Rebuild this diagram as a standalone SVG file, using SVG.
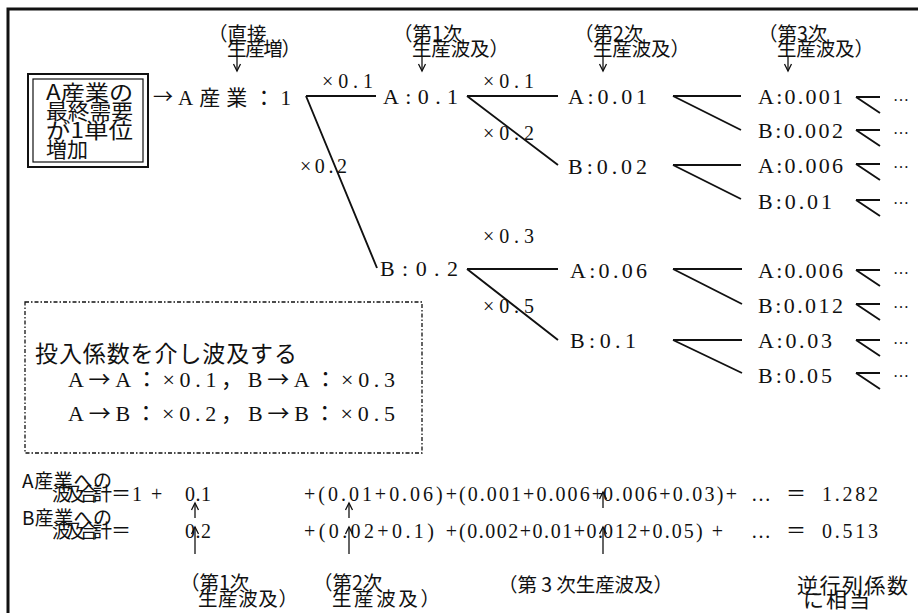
<svg xmlns="http://www.w3.org/2000/svg" width="918" height="613" viewBox="0 0 918 613">
<defs>
<marker id="ah" markerWidth="10" markerHeight="10" refX="8" refY="5" orient="auto" markerUnits="userSpaceOnUse"><path d="M1,1.5 L8,5 L1,8.5" fill="none" stroke="#111" stroke-width="1.3"/></marker>
</defs>
<style>
.s{font-family:"Liberation Serif","Noto Sans CJK JP",serif;fill:#111}
.j{font-family:"Noto Sans CJK JP",sans-serif;fill:#111}
.ln{stroke:#111;stroke-width:1.9;fill:none}
.ar{stroke:#111;stroke-width:1.3;fill:none;marker-end:url(#ah)}
.n{font-size:22px}
.m{font-size:20px}
.h{font-size:19.5px}
.f{font-size:20px}
.d{font-size:16px}
</style>
<rect width="918" height="613" fill="#fff"/>
<path d="M8,613 V9 H918" fill="none" stroke="#111" stroke-width="3"/>

<g id="headers">
<text class="j h" x="208" y="41">（直接</text>
<text class="j h" x="227" y="56" textLength="74" lengthAdjust="spacing">生産増）</text>
<text class="j h" x="393" y="41">（第1次</text>
<text class="j h" x="412" y="56" textLength="97" lengthAdjust="spacing">生産波及）</text>
<text class="j h" x="574" y="41">（第2次</text>
<text class="j h" x="593" y="56" textLength="97" lengthAdjust="spacing">生産波及）</text>
<text class="j h" x="758" y="41">（第3次</text>
<text class="j h" x="777" y="56" textLength="97" lengthAdjust="spacing">生産波及）</text>
</g>

<g id="start-box">
<rect x="28" y="74" width="120" height="93" fill="none" stroke="#111" stroke-width="2"/>
<rect x="33" y="79" width="110" height="83" fill="none" stroke="#111" stroke-width="1.2"/>
<text class="j" font-size="21" x="46" y="100" textLength="87" lengthAdjust="spacingAndGlyphs">A産業の</text>
<text class="j" font-size="21" x="46" y="119" textLength="87" lengthAdjust="spacingAndGlyphs">最終需要</text>
<text class="j" font-size="21" x="46" y="138" textLength="87" lengthAdjust="spacingAndGlyphs">が1単位</text>
<text class="j" font-size="21" x="46" y="157" textLength="42" lengthAdjust="spacingAndGlyphs">増加</text>
</g>

<g id="node-A-industry">
<text class="j" font-size="20" x="153" y="104">→</text>
<text class="s" font-size="21" x="178" y="105" textLength="113" lengthAdjust="spacing">A産業：1</text>
</g>
<g id="node-l1-A"><text class="s n" x="383" y="104" textLength="75" lengthAdjust="spacing">A:0.1</text></g>
<g id="node-l1-B"><text class="s n" x="380" y="276" textLength="78" lengthAdjust="spacing">B:0.2</text></g>
<g id="node-l2-AA"><text class="s n" x="568" y="104" textLength="79" lengthAdjust="spacing">A:0.01</text></g>
<g id="node-l2-AB"><text class="s n" x="568" y="174" textLength="79" lengthAdjust="spacing">B:0.02</text></g>
<g id="node-l2-BA"><text class="s n" x="570" y="278" textLength="77" lengthAdjust="spacing">A:0.06</text></g>
<g id="node-l2-BB"><text class="s n" x="570" y="348" textLength="66" lengthAdjust="spacing">B:0.1</text></g>
<g id="node-l3-1"><text class="s n" x="758" y="104" textLength="85" lengthAdjust="spacing">A:0.001</text></g>
<g id="node-l3-2"><text class="s n" x="758" y="138" textLength="85" lengthAdjust="spacing">B:0.002</text></g>
<g id="node-l3-3"><text class="s n" x="758" y="173" textLength="85" lengthAdjust="spacing">A:0.006</text></g>
<g id="node-l3-4"><text class="s n" x="758" y="209" textLength="74" lengthAdjust="spacing">B:0.01</text></g>
<g id="node-l3-5"><text class="s n" x="758" y="278" textLength="85" lengthAdjust="spacing">A:0.006</text></g>
<g id="node-l3-6"><text class="s n" x="758" y="313" textLength="85" lengthAdjust="spacing">B:0.012</text></g>
<g id="node-l3-7"><text class="s n" x="758" y="348" textLength="74" lengthAdjust="spacing">A:0.03</text></g>
<g id="node-l3-8"><text class="s n" x="758" y="383" textLength="74" lengthAdjust="spacing">B:0.05</text></g>

<g id="connectors">
<line class="ar" x1="237" y1="56" x2="237" y2="71"/>
<line class="ar" x1="422" y1="56" x2="422" y2="71"/>
<line class="ar" x1="603" y1="56" x2="603" y2="71"/>
<line class="ar" x1="788" y1="56" x2="788" y2="71"/>
<path class="ln" d="M306,96 H376 M306,96 L377,268"/>
<path class="ln" d="M467,96 H558 M467,96 L558,165"/>
<path class="ln" d="M467,269 H558 M467,269 L558,340"/>
<path class="ln" d="M673,96 H741 M673,96 L741,130"/>
<path class="ln" d="M673,165 H741 M673,165 L741,199"/>
<path class="ln" d="M673,269 H742 M673,269 L742,304"/>
<path class="ln" d="M673,340 H742 M673,340 L742,373"/>
<path class="ln" d="M856,97 H880 M856,97 L880,113 M856,130 H880 M856,130 L880,146 M856,164 H880 M856,164 L880,180 M856,200 H880 M856,200 L880,216 M856,270 H880 M856,270 L880,286 M856,304 H880 M856,304 L880,320 M856,340 H880 M856,340 L880,356 M856,373 H880 M856,373 L880,389"/>
<line class="ar" x1="195" y1="518" x2="195" y2="503"/>
<line class="ar" x1="349" y1="518" x2="349" y2="503"/>
<line class="ar" x1="603" y1="508" x2="603" y2="492"/>
<line class="ar" x1="195" y1="554" x2="195" y2="527"/>
<line class="ar" x1="349" y1="554" x2="349" y2="527"/>
<line class="ar" x1="603" y1="554" x2="603" y2="527"/>
</g>

<g id="multipliers">
<text class="s m" x="322" y="88" textLength="51" lengthAdjust="spacing">×0.1</text>
<text class="s m" x="300" y="173" textLength="47" lengthAdjust="spacing">×0.2</text>
<text class="s m" x="483" y="88" textLength="51" lengthAdjust="spacing">×0.1</text>
<text class="s m" x="483" y="140" textLength="51" lengthAdjust="spacing">×0.2</text>
<text class="s m" x="483" y="243" textLength="51" lengthAdjust="spacing">×0.3</text>
<text class="s m" x="483" y="313" textLength="51" lengthAdjust="spacing">×0.5</text>
</g>

<g id="ellipses">
<text class="s d" x="893" y="101">…</text>
<text class="s d" x="893" y="134">…</text>
<text class="s d" x="893" y="168">…</text>
<text class="s d" x="893" y="204">…</text>
<text class="s d" x="893" y="274">…</text>
<text class="s d" x="893" y="308">…</text>
<text class="s d" x="893" y="344">…</text>
<text class="s d" x="893" y="377">…</text>
</g>

<g id="coeff-box">
<rect x="25" y="302" width="397" height="151" fill="none" stroke="#111" stroke-width="1.3" stroke-dasharray="4 2 1.5 2"/>
<text class="j" font-size="23" x="35" y="362" textLength="262" lengthAdjust="spacing">投入係数を介し波及する</text>
<text class="s" font-size="22" x="68" y="387" textLength="327" lengthAdjust="spacing">A<tspan class="j">→</tspan>A：×0.1，B<tspan class="j">→</tspan>A：×0.3</text>
<text class="s" font-size="22" x="68" y="421" textLength="327" lengthAdjust="spacing">A<tspan class="j">→</tspan>B：×0.2，B<tspan class="j">→</tspan>B：×0.5</text>
</g>

<g id="sum-A">
<text class="j" font-size="19" x="22" y="488" textLength="90" lengthAdjust="spacing">A産業への</text>
<text class="j" font-size="19" x="52" y="501" textLength="60" lengthAdjust="spacing">波及合計</text>
<text class="j f" x="111" y="501">＝</text>
<text class="s f" x="132" y="501">1</text>
<text class="s f" x="151" y="501">+</text>
<text class="s f" x="185" y="501" textLength="26" lengthAdjust="spacing">0.1</text>
<text class="s f" x="304" y="501" textLength="153" lengthAdjust="spacing">+(0.01+0.06)+</text>
<text class="s f" x="459" y="501" textLength="144" lengthAdjust="spacing">(0.001+0.006+</text>
<text class="s f" x="603" y="501" textLength="134" lengthAdjust="spacing">0.006+0.03)+</text>
<text class="s f" x="751" y="501">…</text>
<text class="j f" x="786" y="501">＝</text>
<text class="s f" x="822" y="501" textLength="56" lengthAdjust="spacing">1.282</text>
</g>

<g id="sum-B">
<text class="j" font-size="19" x="22" y="525" textLength="90" lengthAdjust="spacing">B産業への</text>
<text class="j" font-size="19" x="52" y="538" textLength="60" lengthAdjust="spacing">波及合計</text>
<text class="j f" x="111" y="538">＝</text>
<text class="s f" x="185" y="538" textLength="26" lengthAdjust="spacing">0.2</text>
<text class="s f" x="304" y="538" textLength="153" lengthAdjust="spacing">+(0.02+0.1) +</text>
<text class="s f" x="459" y="538" textLength="144" lengthAdjust="spacing">(0.002+0.01+0.</text>
<text class="s f" x="603" y="538" textLength="120" lengthAdjust="spacing">012+0.05) +</text>
<text class="s f" x="751" y="538">…</text>
<text class="j f" x="786" y="538">＝</text>
<text class="s f" x="822" y="538" textLength="56" lengthAdjust="spacing">0.513</text>
</g>

<g id="bottom-labels">
<text class="j h" x="180" y="590">（第1次</text>
<text class="j h" x="198" y="606" textLength="100" lengthAdjust="spacing">生産波及）</text>
<text class="j h" x="313" y="590">（第2次</text>
<text class="j h" x="332" y="606" textLength="108" lengthAdjust="spacing">生産波及）</text>
<text class="j h" x="498" y="592" textLength="175" lengthAdjust="spacing">（第 3 次生産波及）</text>
<text class="j" font-size="21" x="797" y="593" textLength="111" lengthAdjust="spacing">逆行列係数</text>
<text class="j" font-size="21" x="803" y="607" textLength="67" lengthAdjust="spacing">に相当</text>
</g>
</svg>
